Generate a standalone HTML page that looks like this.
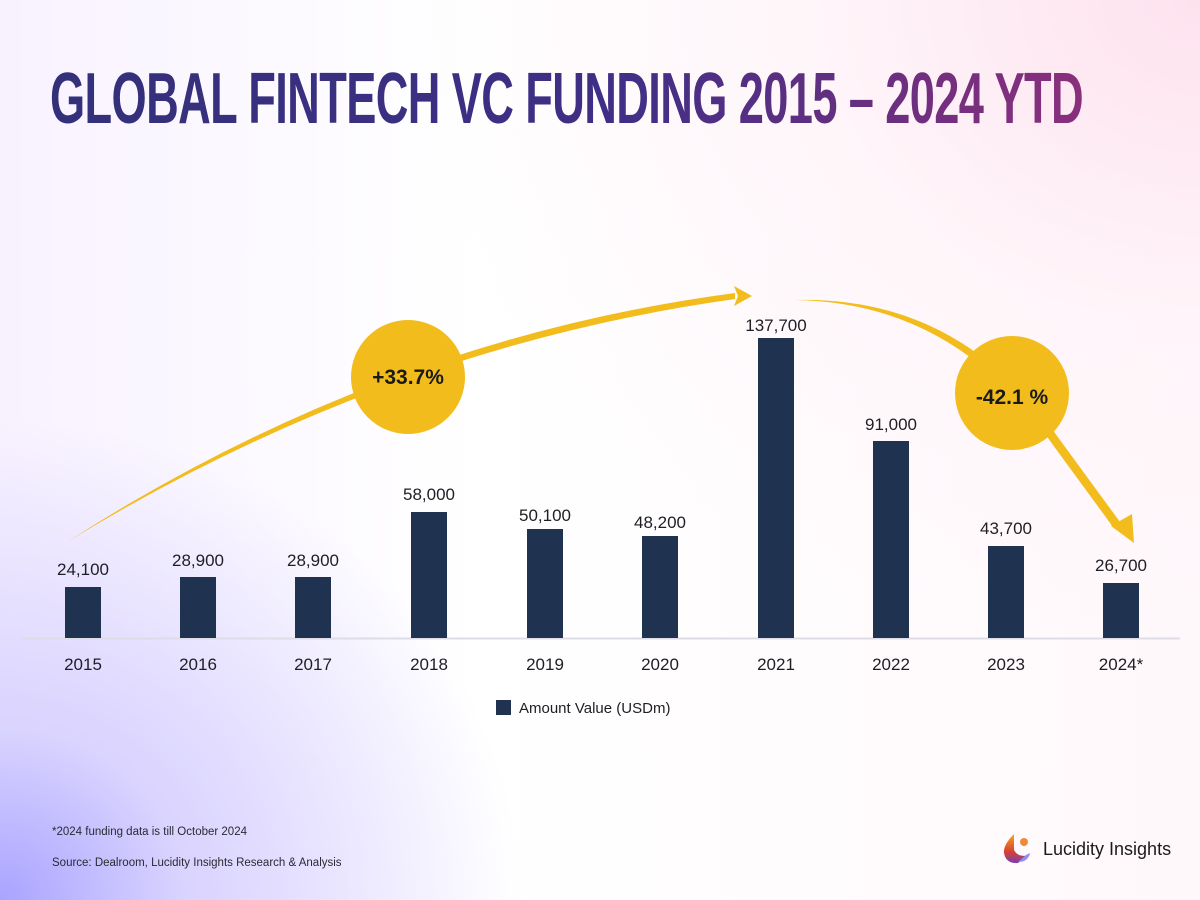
<!DOCTYPE html>
<html><head><meta charset="utf-8"><style>
html,body{margin:0;padding:0}
body{width:1200px;height:900px;overflow:hidden;position:relative;font-family:"Liberation Sans",sans-serif;
background:radial-gradient(ellipse 520px 480px at 0px 900px,#a9a4ff 0%,#d9d3ff 35%,rgba(255,255,255,0) 100%),
radial-gradient(ellipse 800px 650px at 1200px 0px,#fde2ee 0%,rgba(255,242,248,0.6) 50%,rgba(255,255,255,0) 100%),
linear-gradient(90deg,#f8f2ff 0%,#fff 40%,#fff8fb 100%);}
.t{position:absolute;left:50px;top:58px;font-weight:bold;font-size:72px;letter-spacing:-1px;white-space:nowrap;transform-origin:0 0;
background:linear-gradient(90deg,#33307a 0%,#3f2f86 55%,#8a2f7c 100%);-webkit-background-clip:text;background-clip:text;color:transparent;}
</style></head><body>
<div class="t" id="t">GLOBAL FINTECH VC FUNDING 2015 – 2024 YTD</div>
<svg width="1200" height="900" style="position:absolute;left:0;top:0" font-family="Liberation Sans, sans-serif">
<line x1="22" y1="638.5" x2="1180" y2="638.5" stroke="#dedce6" stroke-width="2"/>
<g fill="#1f3350">
<rect x="65" y="587" width="36" height="51"/>
<rect x="180" y="577" width="36" height="61"/>
<rect x="295" y="577" width="36" height="61"/>
<rect x="411" y="512" width="36" height="126"/>
<rect x="527" y="529" width="36" height="109"/>
<rect x="642" y="536" width="36" height="102"/>
<rect x="758" y="338" width="36" height="300"/>
<rect x="873" y="441" width="36" height="197"/>
<rect x="988" y="546" width="36" height="92"/>
<rect x="1103" y="583" width="36" height="55"/>
</g>
<g font-size="17" fill="#1e1e24" text-anchor="middle">
<text x="83" y="575">24,100</text>
<text x="198" y="566">28,900</text>
<text x="313" y="566">28,900</text>
<text x="429" y="500">58,000</text>
<text x="545" y="521">50,100</text>
<text x="660" y="528">48,200</text>
<text x="776" y="331">137,700</text>
<text x="891" y="430">91,000</text>
<text x="1006" y="534">43,700</text>
<text x="1121" y="571">26,700</text>
</g>
<g font-size="17" fill="#1e1e24" text-anchor="middle">
<text x="83" y="670">2015</text><text x="198" y="670">2016</text><text x="313" y="670">2017</text>
<text x="429" y="670">2018</text><text x="545" y="670">2019</text><text x="660" y="670">2020</text>
<text x="776" y="670">2021</text><text x="891" y="670">2022</text><text x="1006" y="670">2023</text>
<text x="1121" y="670">2024*</text>
</g>
<rect x="496" y="700" width="15" height="15" fill="#1f3350"/>
<text x="519" y="713" font-size="15" fill="#1e1e24">Amount Value (USDm)</text>
<path d="M67,542 Q380,340 735,293 L735,299 Q385,348 67,542 Z" fill="#f2bd1c"/>
<path d="M734,286 L752,296 L734,306 L738,296 Z" fill="#f2bd1c"/>
<path d="M794,300 Q960,295 1060,440 L1120,522 L1113,527 L1053,445 Q955,302 794,300 Z" fill="#f2bd1c"/>
<path d="M1111,526 L1134,543 L1132,514 Z" fill="#f2bd1c"/>
<circle cx="408" cy="377" r="57" fill="#f2bd1c"/>
<circle cx="1012" cy="393" r="57" fill="#f2bd1c"/>
<text x="408" y="384" font-size="21" font-weight="bold" fill="#1a1a1a" text-anchor="middle">+33.7%</text>
<text x="1012" y="404" font-size="21" font-weight="bold" fill="#1a1a1a" text-anchor="middle">-42.1 %</text>
<text x="52" y="835" font-size="11.5" fill="#2a2a33">*2024 funding data is till October 2024</text>
<text x="52" y="866" font-size="11.5" fill="#2a2a33">Source: Dealroom, Lucidity Insights Research &amp; Analysis</text>
<defs><linearGradient id="lg" x1="0" y1="0" x2="0" y2="1"><stop offset="0" stop-color="#f5a623"/><stop offset="0.6" stop-color="#d9402f"/><stop offset="1" stop-color="#7a3fb0"/></linearGradient></defs>
<path d="M1014,834 Q1003,845 1004,853 Q1006,864 1018,863 L1030,855 Q1018,858 1014,850 Z" fill="url(#lg)"/>
<circle cx="1024" cy="842" r="4" fill="#f08a3a"/>
<path d="M1018,862 Q1028,862 1030,853 L1026,855 Z" fill="#8f8cf2"/>
<text x="1043" y="855" font-size="18" fill="#1a1a1a">Lucidity Insights</text>
</svg>
<script>
var t=document.getElementById('t');var w=t.getBoundingClientRect().width;t.style.transform='scaleX('+(1033/w)+')';
</script>
</body></html>
